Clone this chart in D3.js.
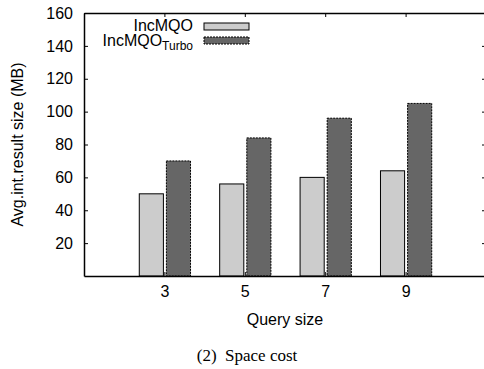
<!DOCTYPE html>
<html>
<head>
<meta charset="utf-8">
<script src="https://cdn.jsdelivr.net/npm/d3@7"></script>
<style>
  body { margin: 0; background: #fff; }
  svg { font-family: "Liberation Sans", Arial, sans-serif; }
  .axis path, .axis line { stroke: #000; }
</style>
</head>
<body>
<div id="chart"></div>
<script>
// data
var querySizes = [1, 3, 5, 7, 9];
var incMQO = [0, 50, 56, 60, 64];
var incMQOTurbo = [0, 70, 84, 96, 105];
var yTicks = [20, 40, 60, 80, 100, 120, 140, 160];
var xTicks = [3, 5, 7, 9];

var width = 484, height = 369;
var margin = {top: 13, right: -2, bottom: 93, left: 84},
    w = width - margin.left - margin.right,
    h = height - margin.top - margin.bottom;

var svg = d3.select("#chart").append("svg")
    .attr("width", width)
    .attr("height", height);

var g = svg.append("g")
    .attr("transform", "translate(" + margin.left + "," + margin.top + ")");

var x = d3.scaleLinear().domain([1, 11]).range([0, w]);
var y = d3.scaleLinear().domain([0, 160]).range([h, 0]);

g.append("clipPath").attr("id", "plotclip")
  .append("rect").attr("x", 0).attr("y", -2).attr("width", w).attr("height", h + 4);

var rows = querySizes.map(function(q, i) {
  return {q: q, a: incMQO[i], b: incMQOTurbo[i]};
});

var barW = x(1.6) - x(1);
var bars = g.append("g").attr("clip-path", "url(#plotclip)");

// light bars (IncMQO)
bars.selectAll(".barA")
    .data(rows)
  .enter().append("rect")
    .attr("class", "barA")
    .attr("x", function(d) { return x(d.q) - barW - 1; })
    .attr("y", function(d) { return y(d.a); })
    .attr("width", barW)
    .attr("height", function(d) { return h - y(d.a); })
    .attr("fill", "#cccccc")
    .attr("stroke", "#000")
    .attr("stroke-width", 1);

// dark bars (IncMQO Turbo)
bars.selectAll(".barB")
    .data(rows)
  .enter().append("rect")
    .attr("class", "barB")
    .attr("x", function(d) { return x(d.q) + 2; })
    .attr("y", function(d) { return y(d.b); })
    .attr("width", barW)
    .attr("height", function(d) { return h - y(d.b); })
    .attr("fill", "#666666")
    .attr("stroke", "#000")
    .attr("stroke-width", 1)
    .attr("stroke-dasharray", "2,1");

// axes
var yAxis = d3.axisLeft(y).tickValues(yTicks).tickSizeInner(-4).tickSizeOuter(0).tickPadding(11);
var yAxisR = d3.axisRight(y).tickValues(yTicks).tickSizeInner(-4).tickSizeOuter(0).tickFormat("");
var xAxis = d3.axisBottom(x).tickValues(xTicks).tickSizeInner(-4).tickSizeOuter(0).tickPadding(10);
var xAxisT = d3.axisTop(x).tickValues(xTicks).tickSizeInner(-4).tickSizeOuter(0).tickFormat("");

g.append("g").attr("class", "axis")
    .call(yAxis)
    .call(function(s) { s.selectAll("text").attr("font-size", 16).attr("fill", "#000"); s.select(".domain").attr("stroke-width", 1.5); });

g.append("g").attr("class", "axis")
    .attr("transform", "translate(" + w + ",0)")
    .call(yAxisR);

g.append("g").attr("class", "axis")
    .attr("transform", "translate(0," + h + ")")
    .call(xAxis)
    .call(function(s) { s.selectAll("text").attr("font-size", 16).attr("fill", "#000"); s.select(".domain").attr("stroke-width", 1.5); });

g.append("g").attr("class", "axis")
    .call(xAxisT)
    .call(function(s) { s.select(".domain").attr("stroke-width", 1.5); });

// axis titles
svg.append("text")
    .attr("transform", "translate(23," + (margin.top + h / 2) + ") rotate(-90)")
    .attr("text-anchor", "middle")
    .attr("font-size", 16)
    .text("Avg.int.result size (MB)");

svg.append("text")
    .attr("x", 285)
    .attr("y", 325)
    .attr("text-anchor", "middle")
    .attr("font-size", 16)
    .text("Query size");

svg.append("text")
    .attr("x", 247)
    .attr("y", 361)
    .attr("text-anchor", "middle")
    .attr("font-family", "'Liberation Serif', 'Times New Roman', serif")
    .attr("font-size", 17)
    .text("(2)\u00a0\u00a0Space cost");

// legend
var legend = svg.append("g");
legend.append("text")
    .attr("x", 193).attr("y", 31)
    .attr("text-anchor", "end")
    .attr("font-size", 16)
    .text("IncMQO");
legend.append("rect")
    .attr("x", 204).attr("y", 23).attr("width", 45).attr("height", 7)
    .attr("fill", "#cccccc").attr("stroke", "#000").attr("stroke-width", 1);

var t2 = legend.append("text")
    .attr("x", 193).attr("y", 46)
    .attr("text-anchor", "end")
    .attr("font-size", 16);
t2.append("tspan").text("IncMQO");
t2.append("tspan").attr("dy", 4).attr("font-size", 12).text("Turbo");
legend.append("rect")
    .attr("x", 204).attr("y", 37).attr("width", 45).attr("height", 7)
    .attr("fill", "#666666").attr("stroke", "#000").attr("stroke-width", 1)
    .attr("stroke-dasharray", "2,1");
</script>
</body>
</html>
